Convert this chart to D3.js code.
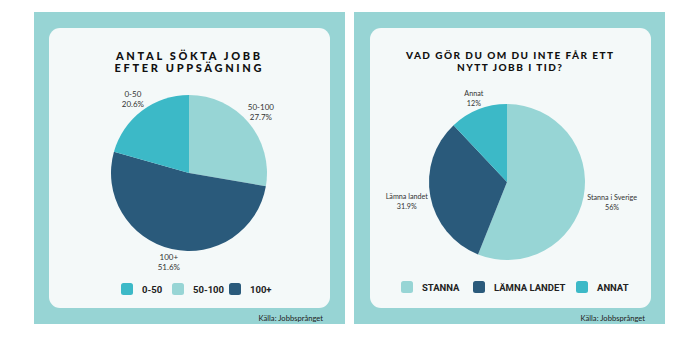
<!DOCTYPE html>
<html><head><meta charset="utf-8">
<script src="https://cdn.jsdelivr.net/npm/d3@7"></script>
<style>
html,body{margin:0;padding:0;background:#fff;}
svg{display:block;}
</style></head>
<body>
<script>
// ---- Data ----
const leftTitle = ["ANTAL SÖKTA JOBB", "EFTER UPPSÄGNING"];
const leftCategories = ["50-100", "100+", "0-50"];
const leftValues = [27.7, 51.6, 20.6];
const leftLabels = ["27.7%", "51.6%", "20.6%"];
const leftLegend = ["0-50", "50-100", "100+"];

const rightTitle = ["VAD GÖR DU OM DU INTE FÅR ETT", "NYTT JOBB I TID?"];
const rightCategories = ["Stanna i Sverige", "Lämna landet", "Annat"];
const rightValues = [56, 31.9, 12];
const rightLabels = ["56%", "31.9%", "12%"];
const rightLegend = ["STANNA", "LÄMNA LANDET", "ANNAT"];
const rightLegendKeys = ["Stanna i Sverige", "Lämna landet", "Annat"];

const source = "Källa: Jobbsprånget";

// ---- Style ----
const C_LIGHT = "#97d5d5", C_MID = "#3cb9c7", C_DARK = "#2a5a7b";
const leftColor = d3.scaleOrdinal().domain(["0-50","50-100","100+"]).range([C_MID, C_LIGHT, C_DARK]);
const rightColor = d3.scaleOrdinal().domain(rightCategories).range([C_LIGHT, C_DARK, C_MID]);

const svg = d3.select("body").append("svg").attr("width", 700).attr("height", 357);

function panel(cfg) {
  const g = svg.append("g");
  g.append("rect").attr("x", cfg.ox).attr("y", 12).attr("width", 311).attr("height", 312).attr("fill", "#97d4d4");
  g.append("rect").attr("x", cfg.ix).attr("y", 28).attr("width", 281).attr("height", 280).attr("rx", 11).attr("fill", "#f4f9f9");

  // title (one text element, two lines)
  const tt = g.append("text").attr("text-anchor", "middle")
    .style("font-family", "Lato").style("font-weight", 900)
    .style("font-size", cfg.tfs + "px").attr("fill", "#111");
  cfg.title.forEach((t, i) => {
    tt.append("tspan").attr("x", cfg.tcx).attr("y", cfg.ty[i])
      .attr("textLength", cfg.tw[i]).attr("lengthAdjust", "spacing").text(t);
  });

  const pie = d3.pie().sort(null).value(d => d.v);
  const arcs = pie(cfg.cats.map((c, i) => ({c, v: cfg.vals[i], l: cfg.labels[i]})));
  const arc = d3.arc().innerRadius(0).outerRadius(cfg.r);
  const pg = g.append("g").attr("transform", `translate(${cfg.cx},${cfg.cy})`);
  pg.selectAll("path").data(arcs).join("path").attr("d", arc).attr("fill", d => cfg.color(d.data.c));

  arcs.forEach((d, i) => {
    const a = (d.startAngle + d.endAngle) / 2;
    const lr = cfg.labelR[i];
    const x = Math.sin(a) * lr, y = -Math.cos(a) * lr;
    const t = pg.append("text").attr("text-anchor", "middle")
      .style("font-family", "Lato").style("font-size", cfg.lfs + "px").attr("fill", "#333");
    t.append("tspan").attr("x", x).attr("y", y - 2).text(d.data.c);
    t.append("tspan").attr("x", x).attr("y", y + 8).text(d.data.l);
  });

  // legend
  cfg.legend.forEach((name, i) => {
    const lx = cfg.legX[i];
    g.append("rect").attr("x", lx).attr("y", cfg.legY - 6).attr("width", 12).attr("height", 12)
      .attr("rx", 2.5).attr("fill", cfg.color(cfg.legKeys[i]));
    g.append("text").attr("x", lx + cfg.legGap).attr("y", cfg.legY).attr("dominant-baseline", "central")
      .style("font-family", "Roboto").style("font-weight", 700).style("font-size", "9.5px")
      .attr("fill", "#222").text(name);
  });

  g.append("text").attr("x", cfg.srcX).attr("y", 318).attr("text-anchor", "end").attr("dominant-baseline", "central")
    .style("font-family", "Lato").style("font-size", "7.6px").attr("fill", "#222").text(source);
}

panel({
  ox: 34, ix: 49, tcx: 188, ty: [60, 71.5], tw: [144, 147], tfs: 11, title: leftTitle,
  cx: 189, cy: 173, r: 78, cats: leftCategories, vals: leftValues, labels: leftLabels,
  color: leftColor, labelR: [94, 91, 93], lfs: 8,
  legend: leftLegend, legKeys: leftLegend, legX: [121, 172, 229], legY: 289, legGap: 21,
  srcX: 323
});

panel({
  ox: 354, ix: 370, tcx: 509.5, ty: [59, 70.7], tw: [207, 105], tfs: 10, title: rightTitle,
  cx: 507, cy: 182, r: 78, cats: rightCategories, vals: rightValues, labels: rightLabels,
  color: rightColor, labelR: [107, 102, 90], lfs: 7.2,
  legend: rightLegend, legKeys: rightLegendKeys, legX: [401, 473, 576], legY: 287, legGap: 21,
  srcX: 645
});
</script>
</body></html>
